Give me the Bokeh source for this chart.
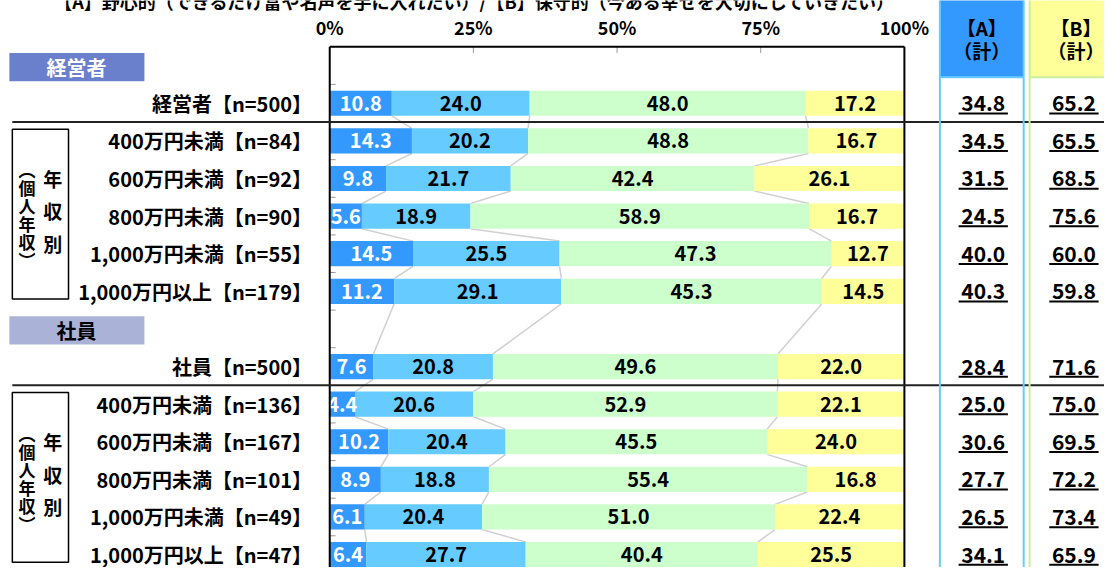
from bokeh.plotting import figure
from bokeh.models import Range1d
from bokeh.embed import file_html
from bokeh.resources import INLINE
from bokeh.core.properties import value

# ---------------- data ----------------
title_text = "【A】野心的（できるだけ富や名声を手に入れたい）/【B】保守的（今ある幸せを大切にしていきたい）"
group_names = ["経営者", "社員"]
row_labels = [
    "経営者【n=500】", "400万円未満【n=84】", "600万円未満【n=92】", "800万円未満【n=90】",
    "1,000万円未満【n=55】", "1,000万円以上【n=179】",
    "社員【n=500】", "400万円未満【n=136】", "600万円未満【n=167】", "800万円未満【n=101】",
    "1,000万円未満【n=49】", "1,000万円以上【n=47】",
]
a_strong = [10.8, 14.3, 9.8, 5.6, 14.5, 11.2, 7.6, 4.4, 10.2, 8.9, 6.1, 6.4]
a_weak = [24.0, 20.2, 21.7, 18.9, 25.5, 29.1, 20.8, 20.6, 20.4, 18.8, 20.4, 27.7]
b_weak = [48.0, 48.8, 42.4, 58.9, 47.3, 45.3, 49.6, 52.9, 45.5, 55.4, 51.0, 40.4]
b_strong = [17.2, 16.7, 26.1, 16.7, 12.7, 14.5, 22.0, 22.1, 24.0, 16.8, 22.4, 25.5]
a_total = [34.8, 34.5, 31.5, 24.5, 40.0, 40.3, 28.4, 25.0, 30.6, 27.7, 26.5, 34.1]
b_total = [65.2, 65.5, 68.5, 75.6, 60.0, 59.8, 71.6, 75.0, 69.5, 72.2, 73.4, 65.9]
tick_values = [0, 25, 50, 75, 100]
tick_labels = ["0%", "25%", "50%", "75%", "100%"]
side_main = ["年", "収", "別"]
side_sub = ["︵", "個", "人", "年", "収", "︶"]
col_heads = [("【A】", "（計）"), ("【B】", "（計）")]

# ---------------- layout (reference-pixel helpers) ----------------
W, H = 1104, 567           # canvas; the 1120x583 reference layout is scaled into it
REF_W, REF_H = 1120.0, 583.0
X0, X100 = 334.0, 917.0
SX = (X100 - X0) / 100.0
ROW0 = 67.0
PITCH = 38.67


def X(px):
    return (px - X0) / SX


def Y(py):
    return (py - ROW0) / PITCH


def SP(slot):
    return ROW0 + slot * PITCH


FONT = value("Noto Sans CJK JP")
C_A1, C_A2, C_B1, C_B2 = "#3399FF", "#66CCFF", "#CCFFCC", "#FFFF99"

slots, header_slots = [], []
pos = 0
for g in range(2):
    header_slots.append(pos)
    pos += 1
    for k in range(6):
        slots.append(pos)
        pos += 1

p = figure(width=W, height=H, x_range=Range1d(X(0), X(REF_W)),
           y_range=Range1d(Y(REF_H), Y(0)), output_backend="svg",
           toolbar_location=None, min_border=0, x_axis_location=None,
           y_axis_location=None, outline_line_color=None,
           background_fill_color="white", border_fill_color="white")
p.grid.visible = False

# title (clipped at top as in reference)
p.text(x=[X(481)], y=[Y(1)], text=[title_text], text_font=FONT, text_font_size="18px",
       text_font_style="bold", text_align="center", text_baseline="middle", text_color="#000")

# tick labels
p.text(x=tick_values, y=[Y(27)] * len(tick_values), text=tick_labels, text_font=FONT,
       text_font_size="18px", text_font_style="bold", text_align="center",
       text_baseline="middle", text_color="#000")

c1 = a_strong
c2 = [a + b for a, b in zip(c1, a_weak)]
c3 = [a + b for a, b in zip(c2, b_weak)]
c4 = [a + b for a, b in zip(c3, b_strong)]
HB = 0.67

# connector lines
for ck in (c1, c2, c3):
    x0s, y0s, x1s, y1s = [], [], [], []
    for i in range(len(slots) - 1):
        x0s.append(ck[i]); y0s.append(slots[i] + HB / 2)
        x1s.append(ck[i + 1]); y1s.append(slots[i + 1] - HB / 2)
    p.segment(x0=x0s, y0=y0s, x1=x1s, y1=y1s, line_color="#D0D0D0", line_width=1.5)

# bars
zero = [0] * len(slots)
for left, right, col in ((zero, c1, C_A1), (c1, c2, C_A2), (c2, c3, C_B1), (c3, c4, C_B2)):
    p.hbar(y=slots, left=left, right=right, height=HB, fill_color=col, line_color=None)

# segment labels
for left, right, vals, col in ((zero, c1, a_strong, "white"), (c1, c2, a_weak, "#000"),
                               (c2, c3, b_weak, "#000"), (c3, c4, b_strong, "#000")):
    p.text(x=[(l + r) / 2 for l, r in zip(left, right)], y=slots,
           text=["%.1f" % v for v in vals], text_font=FONT, text_font_size="20px",
           text_font_style="bold", text_align="center", text_baseline="middle",
           text_color=col)

# left axis ticks and top ticks
bnds = [i + 0.5 for i in range(-1, pos)]
p.segment(x0=[0] * len(bnds), y0=bnds, x1=[X(340)] * len(bnds), y1=bnds,
          line_color="#999999", line_width=1)
p.segment(x0=tick_values[1:4], y0=[-0.5] * 3, x1=tick_values[1:4], y1=[Y(54)] * 3,
          line_color="#999999", line_width=1)

# frame
bottom = Y(REF_H + 5)
p.segment(x0=[0, 100, 0], y0=[-0.5, -0.5, -0.5], x1=[0, 100, 100], y1=[bottom, bottom, -0.5],
          line_color="#000", line_width=2)

# group separators
sep_y = [slots[0] + 0.5, slots[6] + 0.5]
p.segment(x0=[X(12)] * 2, y0=sep_y, x1=[X(1130)] * 2, y1=sep_y, line_color="#222", line_width=2)

# group header boxes
hdr_fill = ["#6B80CC", "#AAB2D8"]
hdr_txt = ["white", "#000"]
for hs, name, f, tc in zip(header_slots, group_names, hdr_fill, hdr_txt):
    p.quad(left=[X(9)], right=[X(146)], top=[Y(SP(hs) - 13)], bottom=[Y(SP(hs) + 16)],
           fill_color=f, line_color=None)
    p.text(x=[X(77)], y=[Y(SP(hs) + 1.5)], text=[name], text_font=FONT, text_font_size="20px",
           text_font_style="bold", text_align="center", text_baseline="middle", text_color=tc)

# row labels
p.text(x=[X(316)] * len(slots), y=slots, text=row_labels, text_font=FONT,
       text_font_size="20px", text_font_style="bold", text_align="right",
       text_baseline="middle", text_color="#000")

# bracket boxes with vertical text
for g in range(2):
    first = slots[g * 6 + 1]
    last = slots[g * 6 + 5]
    top_px = SP(first) - 12
    bot_px = SP(last) + 8
    p.quad(left=[X(12)], right=[X(69)], top=[Y(top_px)], bottom=[Y(bot_px)],
           fill_color=None, line_color="#000", line_width=1.5)
    p.text(x=[X(53)] * 3, y=[Y(top_px + 84 + (i - 1) * 33.5) for i in range(3)],
           text=side_main, text_font=FONT, text_font_size="19px", text_font_style="bold",
           text_align="center", text_baseline="middle", text_color="#000")
    p.text(x=[X(27)] * 6, y=[Y(top_px + 88 + (i - 2.5) * 18.5) for i in range(6)],
           text=side_sub, text_font=FONT, text_font_size="17px", text_font_style="bold",
           text_align="center", text_baseline="middle", text_color="#000")

# right summary columns
col_specs = [(953, 1038, C_A1, C_A2, 995.5, 997, a_total),
             (1044, 1135, "#FFFF99", "#CCEE99", 1091, 1089, b_total)]
for (lx, rx, fill, edge, hx, cx, vals), (h1, h2) in zip(col_specs, col_heads):
    p.quad(left=[X(lx)], right=[X(rx)], top=[Y(-5)], bottom=[Y(79)], fill_color=fill,
           line_color=edge, line_width=2)
    p.segment(x0=[X(lx), X(rx)], y0=[Y(79)] * 2, x1=[X(lx), X(rx)], y1=[bottom] * 2,
              line_color=edge, line_width=2)
    p.text(x=[X(hx)] * 2, y=[Y(28), Y(51)], text=[h1, h2], text_font=FONT,
           text_font_size="19px", text_font_style="bold", text_align="center",
           text_baseline="middle", text_color="#000")
    p.text(x=[X(cx)] * len(slots), y=slots, text=["%.1f" % v for v in vals], text_font=FONT,
           text_font_size="21px", text_font_style="bold", text_align="center",
           text_baseline="middle", text_color="#000")
    uy = [s + 10.5 / PITCH for s in slots]
    p.segment(x0=[X(cx - 25)] * len(slots), y0=uy, x1=[X(cx + 25)] * len(slots), y1=uy,
              line_color="#000", line_width=2)

open("out.html", "w").write(file_html(p, INLINE))
